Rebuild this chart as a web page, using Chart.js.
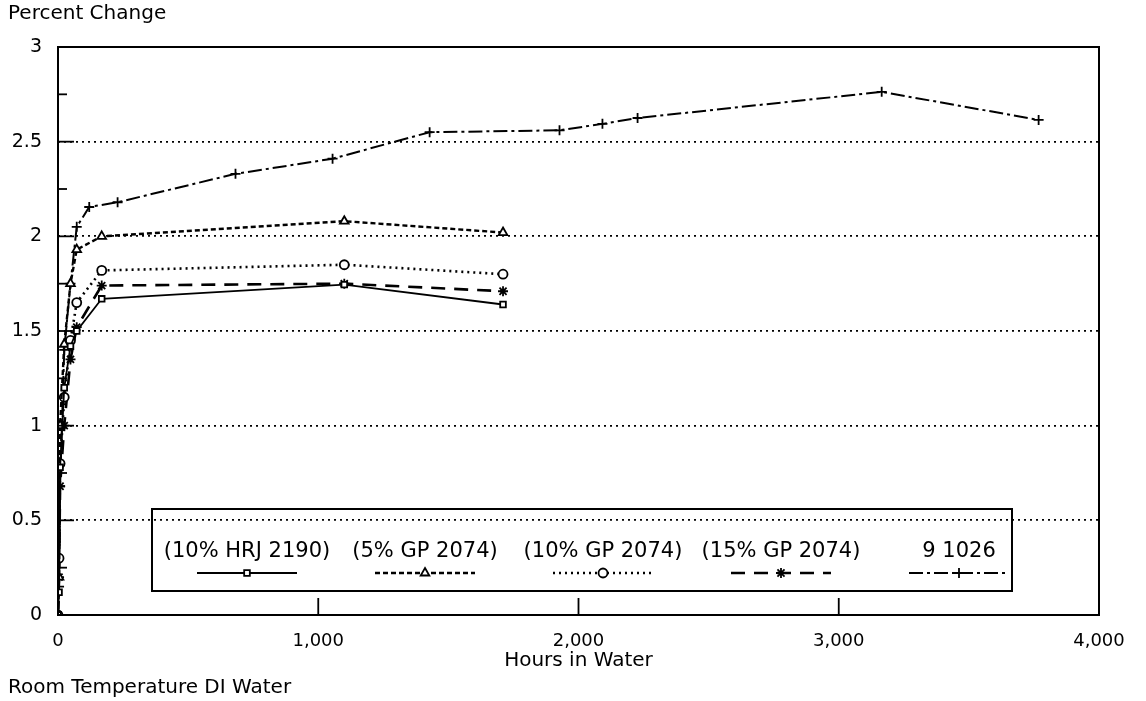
<!DOCTYPE html>
<html>
<head>
<meta charset="utf-8">
<script src="https://cdn.jsdelivr.net/npm/chart.js@4.4.0/dist/chart.umd.min.js"></script>
<style>
  html, body { margin: 0; padding: 0; background: #fff; }
  #wrap { width: 1146px; height: 701px; }
</style>
</head>
<body>
<div id="wrap"><canvas id="waterChart" width="1146" height="701"></canvas></div>
<script>
// values (hours in water vs percent change)
const seriesNames = ['(10% HRJ 2190)', '(5% GP 2074)', '(10% GP 2074)', '(15% GP 2074)', '9 1026'];

const hrjHours = [0, 4, 8, 24, 48, 72, 168, 1100, 1710];
const hrjVals  = [0, 0.12, 0.78, 1.2, 1.42, 1.5, 1.67, 1.745, 1.64];

const gp5Hours = [0, 4, 8, 24, 48, 72, 168, 1100, 1710];
const gp5Vals  = [0, 0.2, 1.0, 1.43, 1.75, 1.93, 2.0, 2.08, 2.02];

const gp10Hours = [0, 4, 8, 24, 48, 72, 168, 1100, 1710];
const gp10Vals  = [0, 0.3, 0.8, 1.15, 1.45, 1.65, 1.82, 1.85, 1.8];

const gp15Hours = [0, 4, 8, 24, 48, 72, 168, 1100, 1710];
const gp15Vals  = [0, 0.2, 0.68, 1.0, 1.35, 1.52, 1.74, 1.75, 1.71];

const g91Hours = [0, 4, 8, 24, 48, 72, 120, 229, 682, 1055, 1428, 1927, 2092, 2227, 3165, 3768];
const g91Vals  = [0, 0.15, 0.68, 1.4, 1.75, 2.05, 2.155, 2.18, 2.33, 2.41, 2.55, 2.56, 2.594, 2.625, 2.763, 2.615];

const xTicks = [0, 1000, 2000, 3000, 4000];
const yTicks = [0, 0.5, 1, 1.5, 2, 2.5, 3];

function pts(hours, vals) {
  return hours.map((h, i) => ({ x: h, y: vals[i] }));
}

const FONT = "'DejaVu Sans', sans-serif";

function makeSet(label, hours, vals, style, dash, width, radius) {
  return {
    label: label,
    data: pts(hours, vals),
    borderColor: '#000',
    backgroundColor: '#fff',
    borderWidth: width,
    borderDash: dash,
    pointStyle: style,
    pointRadius: radius,
    pointBorderColor: '#000',
    pointBackgroundColor: style === 'star' ? '#000' : '#fff',
    pointBorderWidth: 1.8,
    tension: 0,
    fill: false
  };
}

const datasets = [
  makeSet(seriesNames[0], hrjHours, hrjVals, 'rect', [], 1.8, 4),
  makeSet(seriesNames[1], gp5Hours, gp5Vals, 'triangle', [5, 3], 2.4, 5),
  makeSet(seriesNames[2], gp10Hours, gp10Vals, 'circle', [2, 4], 2.6, 4.5),
  makeSet(seriesNames[3], gp15Hours, gp15Vals, 'star', [14, 9], 2.6, 5),
  makeSet(seriesNames[4], g91Hours, g91Vals, 'cross', [14, 4, 3, 4], 2, 5)
];

// frame, inner tick marks, side texts and the boxed legend
const decorPlugin = {
  id: 'decor',
  afterDraw(chart) {
    const ctx = chart.ctx;
    const a = chart.chartArea;
    const xs = chart.scales.x, ys = chart.scales.y;
    ctx.save();
    ctx.strokeStyle = '#000';
    ctx.lineWidth = 2;
    ctx.setLineDash([]);
    ctx.strokeRect(a.left, a.top, a.right - a.left, a.bottom - a.top);

    // inner ticks
    ctx.lineWidth = 1.8;
    for (let v = 0.25; v < 3; v += 0.25) {
      const y = ys.getPixelForValue(v);
      const len = (Math.abs(v * 2 - Math.round(v * 2)) < 1e-6) ? 16 : 9;
      ctx.beginPath();
      ctx.moveTo(a.left, y);
      ctx.lineTo(a.left + len, y);
      ctx.stroke();
    }
    xTicks.slice(1, -1).forEach(t => {
      const x = xs.getPixelForValue(t);
      ctx.beginPath();
      ctx.moveTo(x, a.bottom);
      ctx.lineTo(x, a.bottom - 17);
      ctx.stroke();
    });

    // texts
    ctx.fillStyle = '#000';
    ctx.font = '20px ' + FONT;
    ctx.textAlign = 'left';
    ctx.textBaseline = 'middle';
    ctx.fillText('Percent Change', 8, 14);
    ctx.fillText('Room Temperature DI Water', 8, 688);

    // legend box
    const bx = 152, by = 509, bw = 860, bh = 82;
    ctx.lineWidth = 2;
    ctx.strokeRect(bx, by, bw, bh);
    ctx.font = '21px ' + FONT;
    ctx.textAlign = 'center';
    chart.data.datasets.forEach((ds, i) => {
      const cx = 247 + i * 178;
      ctx.fillStyle = '#000';
      ctx.fillText(ds.label, cx, 552);
      ctx.save();
      ctx.lineWidth = ds.borderWidth;
      ctx.setLineDash(ds.borderDash);
      ctx.beginPath();
      ctx.moveTo(cx - 50, 573);
      ctx.lineTo(cx + 50, 573);
      ctx.stroke();
      ctx.setLineDash([]);
      ctx.lineWidth = ds.pointBorderWidth;
      ctx.fillStyle = ds.pointBackgroundColor;
      Chart.helpers.drawPoint(ctx, { pointStyle: ds.pointStyle, radius: ds.pointRadius, rotation: 0, borderWidth: ds.pointBorderWidth }, cx, 573);
      ctx.restore();
    });
    ctx.restore();
  }
};

const ctx = document.getElementById('waterChart').getContext('2d');
const waterChart = new Chart(ctx, {
  type: 'line',
  data: { datasets: datasets },
  plugins: [decorPlugin],
  options: {
    responsive: false,
    animation: false,
    devicePixelRatio: 1,
    layout: { padding: { top: 47, right: 47, left: 0, bottom: 28 } },
    plugins: {
      legend: { display: false },
      tooltip: { enabled: false }
    },
    scales: {
      x: {
        type: 'linear',
        min: 0,
        max: 4000,
        afterBuildTicks(scale) { scale.ticks = xTicks.map(v => ({ value: v })); },
        ticks: {
          color: '#000',
          font: { family: FONT, size: 18 },
          padding: 8,
          maxRotation: 0
        },
        grid: { display: false },
        border: { display: false },
        title: {
          display: true,
          text: 'Hours in Water',
          color: '#000',
          font: { family: FONT, size: 20 },
          padding: { top: 0, bottom: 0 }
        },
        afterFit(scale) { scale.height = 58; }
      },
      y: {
        min: 0,
        max: 3,
        afterBuildTicks(scale) { scale.ticks = yTicks.map(v => ({ value: v })); },
        ticks: {
          color: '#000',
          font: { family: FONT, size: 19 },
          padding: 16,
          callback: v => String(v)
        },
        grid: { color: '#000', lineWidth: 1.8, drawTicks: false },
        border: { display: false, dash: [2, 4] },
        afterFit(scale) { scale.width = 58; }
      }
    }
  }
});
</script>
</body>
</html>
